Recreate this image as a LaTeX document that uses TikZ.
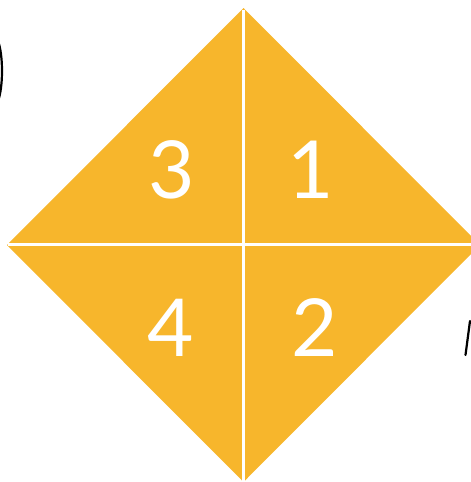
\documentclass[tikz,border=0pt]{standalone}
\usepackage{fontspec}
\setmainfont{Lato}
\definecolor{diaorange}{RGB}{247,182,44}
\tikzset{
  quad/.style={fill=diaorange, draw=none},
  divider/.style={draw=white, line width=2.8pt},
  digit/.style={text=white, font=\fontsize{80}{80}\selectfont, anchor=base, inner sep=0pt},
  frag/.style={draw=black, line width=2.2pt, line cap=round}
}
\begin{document}
\begin{tikzpicture}[x=1pt,y=-1pt]
\useasboundingbox (0,0) rectangle (471,482);
\coordinate (T) at (243.5,8);
\coordinate (L) at (7,245);
\coordinate (R) at (480,245);
\coordinate (B) at (243.5,482);
\coordinate (C) at (243.5,244.5);
\coordinate (Tl) at (243.5,10);
\coordinate (Ll) at (8,244.5);
\coordinate (Rl) at (480,244.5);
\coordinate (Bl) at (243.5,482);
\fill[quad] (T) -- (R) -- (B) -- (L) -- cycle;
\path[divider] (Tl) -- (Bl);
\path[divider] (Ll) -- (Rl);
\node[digit] (n3) at (172,198) {3};
\node[digit] (n1) at (311,198) {1};
\node[digit] (n4) at (171,356) {4};
\node[digit] (n2) at (315,356) {2};
% cropped fragments at the edges
\coordinate (fa) at (-1,44);
\coordinate (fb) at (-1,98);
\draw[frag] (fa) .. controls (3,58) and (3,84) .. (fb);
\coordinate (fc) at (470,321);
\coordinate (fd) at (465.5,355);
\draw[frag] (fc) -- (fd);
\end{tikzpicture}
\end{document}
